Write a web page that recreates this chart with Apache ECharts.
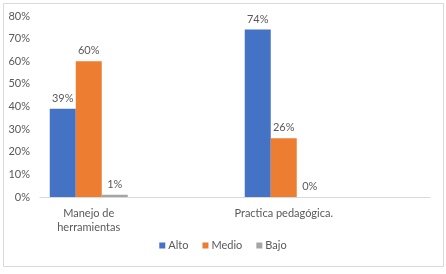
<!DOCTYPE html>
<html>
<head>
<meta charset="utf-8">
<script src="https://cdn.jsdelivr.net/npm/echarts@6/dist/echarts.min.js"></script>
<style>
  html, body { margin: 0; padding: 0; background: #fff; }
  #chart { width: 446px; height: 274px; }
</style>
</head>
<body>
<div id="chart"></div>
<script>
// categorías (las vacías son huecos del gráfico original)
const categories = ['Manejo de\nherramientas', '', 'Practica pedagógica.', ''];
const alto = [39, null, 74, null];
const medio = [60, null, 26, null];
const bajo = [1, null, 0, null];
const yTicks = [0, 10, 20, 30, 40, 50, 60, 70, 80];

const textColor = '#595959';
const font = 'Lato';

const labelCfg = {
  show: true,
  position: 'top',
  distance: 5,
  color: textColor,
  fontFamily: font,
  fontSize: 11,
  formatter: p => p.value + '%'
};

const mkSeries = (name, data, color) => ({
  name,
  type: 'bar',
  data,
  barWidth: 26,
  barGap: '0%',
  itemStyle: { color },
  label: labelCfg
});

const myChart = echarts.init(document.getElementById('chart'));
myChart.setOption({
  animation: false,
  textStyle: { fontFamily: font },
  graphic: [{
    type: 'rect',
    shape: { x: 3.5, y: 3.5, width: 440, height: 263 },
    style: { fill: 'none', stroke: '#d9d9d9', lineWidth: 1 },
    silent: true
  }],
  grid: { left: 40, right: 16, top: 16, bottom: 77 },
  legend: {
    bottom: 18,
    left: 'center',
    itemWidth: 6,
    itemHeight: 6,
    itemGap: 14,
    icon: 'rect',
    textStyle: { color: textColor, fontSize: 11, fontFamily: font, padding: [0, 0, 0, -2] },
    data: ['Alto', 'Medio', 'Bajo']
  },
  xAxis: {
    type: 'category',
    data: categories,
    axisLine: { lineStyle: { color: '#d9d9d9' } },
    axisTick: { show: false },
    axisLabel: {
      color: textColor,
      fontSize: 11,
      fontFamily: font,
      margin: 9,
      lineHeight: 14,
      interval: 0
    }
  },
  yAxis: {
    type: 'value',
    min: yTicks[0],
    max: yTicks[yTicks.length - 1],
    interval: 10,
    splitLine: { show: false },
    axisLine: { show: false },
    axisTick: { show: false },
    axisLabel: {
      color: textColor,
      fontSize: 11,
      fontFamily: font,
      margin: 10,
      formatter: '{value}%'
    }
  },
  series: [
    mkSeries('Alto', alto, '#4472C4'),
    mkSeries('Medio', medio, '#ED7D31'),
    mkSeries('Bajo', bajo, '#A5A5A5')
  ]
});

window.addEventListener('resize', () => myChart.resize());
</script>
</body>
</html>
